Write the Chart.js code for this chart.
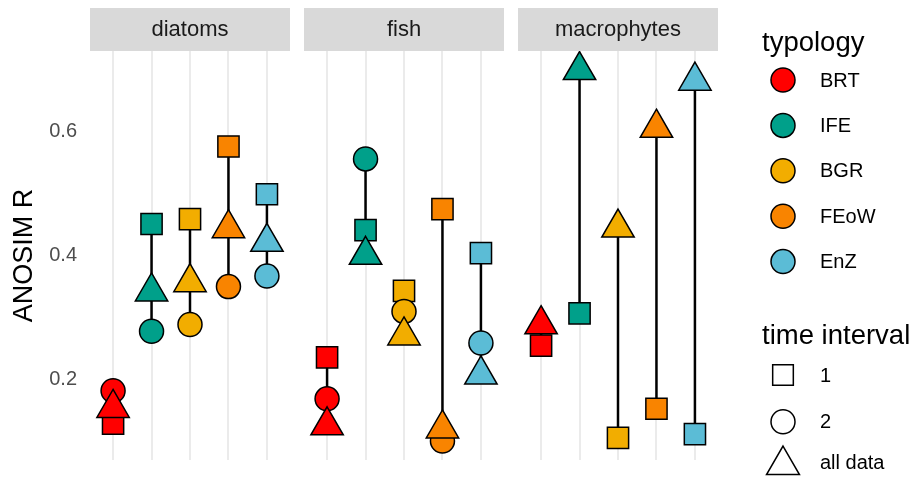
<!DOCTYPE html>
<html lang="en">
<head>
<meta charset="UTF-8">
<title>ANOSIM R by typology</title>
<script src="https://cdn.jsdelivr.net/npm/chart.js"></script>
<style>
  body { margin: 0; background: #fff; }
  #wrap { width: 917px; height: 477px; }
</style>
</head>
<body>
<div id="wrap"><canvas id="anosim" width="917" height="477"></canvas></div>
<script>
const panels = ['diatoms', 'fish', 'macrophytes'];
const typologies = ['BRT', 'IFE', 'BGR', 'FEoW', 'EnZ'];
const typoColors = ['#FF0000', '#00A08A', '#F2AD00', '#F98400', '#5BBCD6'];
const intervals = ['1', '2', 'all data'];
const yTicks = [0.2, 0.4, 0.6];

// ANOSIM R, one row per panel, one value per typology
const interval1 = [
  [0.128, 0.450, 0.458, 0.575, 0.498],
  [0.235, 0.440, 0.342, 0.474, 0.403],
  [0.254, 0.306, 0.105, 0.152, 0.111]
];
const interval2 = [
  [0.181, 0.277, 0.288, 0.349, 0.366],
  [0.168, 0.555, 0.309, 0.100, 0.258],
  [null, null, null, null, null]
];
const allData = [
  [0.153, 0.341, 0.356, 0.443, 0.421],
  [0.125, 0.400, 0.270, 0.120, 0.207],
  [0.288, 0.698, 0.444, 0.605, 0.681]
];

const FONT = "'Liberation Sans', Arial, sans-serif";
// each facet spans 0.4..5.6 like a discrete ggplot axis, with a small gap between facets
const panelGap = 0.364;
const panelStep = 5.2 + panelGap;
const xOf = (p, i) => p * panelStep + i + 1;

const series = [
  { label: intervals[0], values: interval1, style: 'rect', radius: 15, order: 2 },
  { label: intervals[1], values: interval2, style: 'circle', radius: 12, order: 1 },
  { label: intervals[2], values: allData, style: 'triangle', radius: 18.7, order: 0 }
];

const datasets = [];

// vertical range line per typology and facet
panels.forEach((name, p) => {
  typologies.forEach((t, i) => {
    const vals = series.map(s => s.values[p][i]).filter(v => v != null);
    if (vals.length < 2) return;
    datasets.push({
      data: [{x: xOf(p, i), y: Math.min(...vals)}, {x: xOf(p, i), y: Math.max(...vals)}],
      showLine: true,
      borderColor: '#000',
      borderWidth: 2.5,
      pointRadius: 0,
      order: 3
    });
  });
});

series.forEach(s => {
  const pts = [], fills = [];
  panels.forEach((name, p) => {
    typologies.forEach((t, i) => {
      const v = s.values[p][i];
      if (v == null) return;
      pts.push({x: xOf(p, i), y: v});
      fills.push(typoColors[i]);
    });
  });
  datasets.push({
    label: s.label,
    data: pts,
    pointStyle: s.style,
    pointRadius: s.radius,
    pointBackgroundColor: fills,
    pointBorderColor: '#000',
    pointBorderWidth: 1.5,
    order: s.order
  });
});

const facetStrips = {
  id: 'facetStrips',
  beforeDraw(chart) {
    const {ctx} = chart;
    const x = chart.scales.x;
    ctx.save();
    panels.forEach((name, p) => {
      const x0 = x.getPixelForValue(p * panelStep + 0.4);
      const x1 = x.getPixelForValue(p * panelStep + 5.6);
      ctx.fillStyle = '#d9d9d9';
      ctx.fillRect(x0, 8, x1 - x0, 43);
      ctx.fillStyle = '#1a1a1a';
      ctx.font = '22px ' + FONT;
      ctx.textAlign = 'center';
      ctx.textBaseline = 'middle';
      ctx.fillText(name, (x0 + x1) / 2, 30);
    });
    ctx.restore();
  }
};

const sideLegend = {
  id: 'sideLegend',
  afterDraw(chart) {
    const {ctx} = chart;
    const mx = 783, tx = 820;
    ctx.save();
    ctx.fillStyle = '#000';
    ctx.textAlign = 'left';
    ctx.textBaseline = 'alphabetic';
    ctx.font = '27.5px ' + FONT;
    ctx.fillText('typology', 762, 51);
    ctx.fillText('time interval', 762, 344);

    ctx.lineWidth = 1.5;
    ctx.strokeStyle = '#000';
    ctx.textBaseline = 'middle';
    ctx.font = '20px ' + FONT;
    typologies.forEach((t, i) => {
      const y = 80 + i * 45.4;
      ctx.fillStyle = typoColors[i];
      Chart.helpers.drawPoint(ctx, {pointStyle: 'circle', radius: 12, borderWidth: 1.5, rotation: 0}, mx, y);
      ctx.fillStyle = '#000';
      ctx.fillText(t, tx, y + 1);
    });

    const shapeY = [375, 421.7, 465];
    const shapeR = [14.6, 12, 19];
    series.forEach((s, k) => {
      ctx.fillStyle = '#fff';
      Chart.helpers.drawPoint(ctx, {pointStyle: s.style, radius: shapeR[k], borderWidth: 1.5, rotation: 0}, mx, shapeY[k]);
      ctx.fillStyle = '#000';
      ctx.fillText(s.label, tx, k === 2 ? shapeY[k] - 2 : shapeY[k] + 1);
    });
    ctx.restore();
  }
};

new Chart(document.getElementById('anosim'), {
  type: 'scatter',
  data: { datasets },
  options: {
    responsive: false,
    animation: false,
    layout: { autoPadding: false, padding: { top: 51, right: 199, bottom: 17, left: 0 } },
    plugins: { legend: { display: false }, tooltip: { enabled: false } },
    scales: {
      x: {
        type: 'linear',
        min: 0.4,
        max: 2 * panelStep + 5.6,
        afterBuildTicks: s => {
          s.ticks = [];
          panels.forEach((n, p) => typologies.forEach((t, i) => s.ticks.push({value: xOf(p, i)})));
        },
        afterFit: s => { s.height = 0; s.paddingLeft = 0; s.paddingRight = 0; },
        ticks: { display: false },
        border: { display: false },
        grid: { color: '#ebebeb', lineWidth: 2, drawTicks: false }
      },
      y: {
        min: 0.2 - 81 / 620,
        max: 0.2 + 328 / 620,
        afterBuildTicks: s => { s.ticks = yTicks.map(v => ({value: v})); },
        afterFit: s => { s.width = 90; s.paddingTop = 0; s.paddingBottom = 0; },
        border: { display: false },
        grid: { display: false, drawTicks: false },
        ticks: {
          padding: 13,
          color: '#4d4d4d',
          font: { size: 20, family: FONT },
          callback: v => v.toFixed(1)
        },
        title: {
          display: true,
          text: 'ANOSIM R',
          color: '#000',
          font: { size: 27, family: FONT },
          padding: { top: 8, bottom: 4 }
        }
      }
    }
  },
  plugins: [facetStrips, sideLegend]
});
</script>
</body>
</html>
